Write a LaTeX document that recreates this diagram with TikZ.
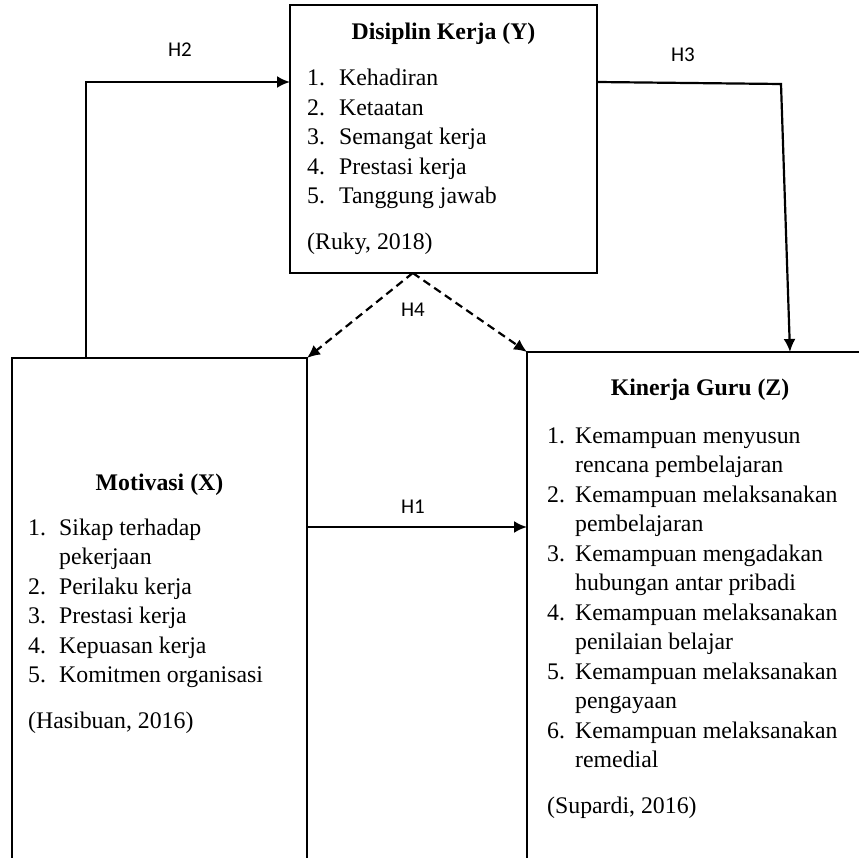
\documentclass[tikz,border=0pt]{standalone}
\usepackage{fontspec}
\setmainfont{Liberation Serif}
\newfontfamily\lblfont{Carlito}
\usetikzlibrary{arrows.meta,calc}
\newlength\itmind
\newcommand\itm[2]{\par\noindent\hangindent=\itmind\hangafter=1\makebox[\itmind][l]{#1}#2}
\newcommand\nl{\hfil\break}
\newcommand\srcnote[1]{\par\vspace{16pt}\noindent #1}
\begin{document}
\begin{tikzpicture}[x=1pt,y=-1pt,
  box/.style={draw,line width=2.4pt,inner sep=0,outer sep=0,rectangle},
  arr/.style={line width=2.2pt,-{Latex[length=13pt,width=12pt]}},
  dasharr/.style={arr,dash pattern=on 8pt off 5pt},
  lbl/.style={font=\lblfont\fontsize{21}{25}\selectfont,inner sep=0},
  ttl/.style={font=\bfseries\fontsize{23.8}{29.5}\selectfont,anchor=base,inner sep=0},
  lst/.style={anchor=base west,inner sep=0,align=left}]
\useasboundingbox (0,0) rectangle (859,858);
\clip (0,0) rectangle (859,858);
% boxes
\node[box,minimum width=307pt,minimum height=268pt] (Y) at (443.5,139) {};
\node[box,minimum width=295pt,minimum height=560pt] (X) at (159.5,638) {};
\node[box,minimum width=346pt,minimum height=566pt] (Z) at (700,635) {};
% titles
\node[ttl] (Yt) at (443.5,40) {Disiplin Kerja (Y)};
\node[ttl] (Xt) at (159.5,490) {Motivasi (X)};
\node[ttl] (Zt) at (700,395) {Kinerja Guru (Z)};
% lists
\node[lst] (Yl) at (307,86) {\parbox[t]{285pt}{\fontsize{23.8}{29.5}\selectfont\raggedright\setlength\itmind{32pt}%
  \itm{1.}{Kehadiran}\itm{2.}{Ketaatan}\itm{3.}{Semangat kerja}\itm{4.}{Prestasi kerja}\itm{5.}{Tanggung jawab}\srcnote{(Ruky, 2018)}}};
\node[lst] (Xl) at (28,535) {\parbox[t]{275pt}{\fontsize{23.8}{29.5}\selectfont\raggedright\setlength\itmind{31pt}%
  \itm{1.}{Sikap terhadap\nl pekerjaan}\itm{2.}{Perilaku kerja}\itm{3.}{Prestasi kerja}\itm{4.}{Kepuasan kerja}\itm{5.}{Komitmen organisasi}\srcnote{(Hasibuan, 2016)}}};
\node[lst] (Zl) at (547,443) {\parbox[t]{320pt}{\fontsize{23.8}{29.5}\selectfont\raggedright\setlength\itmind{28pt}%
  \itm{1.}{Kemampuan menyusun\nl rencana pembelajaran}\itm{2.}{Kemampuan melaksanakan\nl pembelajaran}\itm{3.}{Kemampuan mengadakan\nl hubungan antar pribadi}\itm{4.}{Kemampuan melaksanakan\nl penilaian belajar}\itm{5.}{Kemampuan melaksanakan\nl pengayaan}\itm{6.}{Kemampuan melaksanakan\nl remedial}\srcnote{(Supardi, 2016)}}};
% connectors
\coordinate (h2) at (86,82);
\draw[arr] (X.north -| h2) -- (h2) -- (h2 -| Y.west);
\coordinate (h3a) at (597,82);
\coordinate (h3b) at (781,84);
\coordinate (h3c) at (790,300);
\draw[arr] (h3a) -- (h3b) -- (h3c |- Z.north);
\coordinate (h4) at ($(Y.south west)!0.4!(Y.south east)$);
\draw[dasharr] (h4) -- (X.north east);
\draw[dasharr] (h4) -- (Z.north west);
\coordinate (h1) at (417,527);
\draw[arr] (X.east |- h1) -- (Z.west |- h1);
% labels
\node[lbl] (L2) at (180,50) {H2};
\node[lbl] (L3) at (683,55) {H3};
\node[lbl] (L4) at (413,310) {H4};
\node[lbl] (L1) at (413,507) {H1};
\end{tikzpicture}
\end{document}
